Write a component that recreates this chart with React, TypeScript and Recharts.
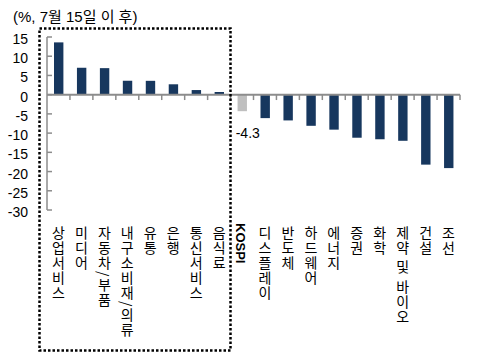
import React from 'react';
import { BarChart, Bar, XAxis, YAxis, ReferenceLine, Cell, LabelList } from 'recharts';

const categories = [
  '상업서비스', '미디어', '자동차/부품', '내구소비재/의류', '유통', '은행', '통신서비스', '음식료',
  'KOSPI',
  '디스플레이', '반도체', '하드웨어', '에너지', '증권', '화학', '제약 및 바이오', '건설', '조선',
];
const returns = [13.6, 7.0, 6.9, 3.6, 3.6, 2.7, 1.2, 0.7, -4.3, -6.1, -6.7, -8.1, -9.1, -11.2, -11.6, -12.0, -18.2, -19.1];
const yTicks = [15, 10, 5, 0, -5, -10, -15, -20, -25, -30];
const highlightCategory = 'KOSPI';
const highlightLabel = '-4.3';
const titleText = '(%, 7월 15일 이 후)';

const data = categories.map((name, i) => ({ name, value: returns[i], pos: i + 0.5 }));
const boundaries = categories.map((_, i) => i + 1);

const NAVY = '#17375E';
const GRAY_BAR = '#BFBFBF';
const AXIS = '#8C8C8C';
const KFONT = '"Noto Sans CJK KR", "Noto Sans", sans-serif';
const LFONT = '"Liberation Sans", Arial, sans-serif';

const YTick = (props: any) => {
  const { x, y, payload } = props;
  return (
    <g>
      <line x1={x} x2={x + 5} y1={y} y2={y} stroke={AXIS} strokeWidth={1.5} />
      <text x={x - 19} y={y + 7} textAnchor="end" fontFamily={LFONT} fontSize={14} fill="#000">
        {payload.value}
      </text>
    </g>
  );
};

const CatTick = (props: any) => {
  const { x, y, payload } = props;
  const label: string = payload.value;
  if (label === highlightCategory) {
    return (
      <text
        x={x - 1.5}
        y={y + 13}
        style={{ writingMode: 'vertical-rl' as any }}
        fontFamily={LFONT}
        fontWeight="bold"
        fontSize={13}
        fill="#000"
      >
        {label}
      </text>
    );
  }
  return (
    <text
      x={x}
      y={y + 16}
      style={{ writingMode: 'vertical-rl' as any, letterSpacing: '1px' }}
      fontFamily={KFONT}
      fontSize={14}
      fill="#000"
    >
      {label}
    </text>
  );
};

const KospiLabel = (props: any) => {
  const { x, y, width, height, index } = props;
  if (categories[index] !== highlightCategory) return null;
  const bottom = Math.max(y, y + height);
  return (
    <text x={x + width / 2 + 5.5} y={bottom + 26.5} textAnchor="middle" fontFamily={LFONT} fontSize={14} fill="#000">
      {highlightLabel}
    </text>
  );
};

export default function App() {
  return (
    <div style={{ position: 'absolute', left: 0, top: 0, width: 480, height: 359, background: '#fff' }}>
      <BarChart width={480} height={359} data={data} margin={{ top: 37, right: 20, bottom: 0, left: 0 }}>
        <XAxis
          dataKey="name"
          interval={0}
          height={149}
          axisLine={false}
          tickLine={false}
          tickSize={0}
          tickMargin={0}
          tick={<CatTick />}
        />
        <XAxis xAxisId="n" dataKey="pos" type="number" domain={[0, categories.length]} hide allowDataOverflow />
        <YAxis
          domain={[-30, 15]}
          ticks={yTicks}
          interval={0}
          width={47}
          tickSize={0}
          tickMargin={0}
          tickLine={false}
          axisLine={{ stroke: AXIS, strokeWidth: 1.5 }}
          tick={<YTick />}
          allowDataOverflow
        />
        <Bar dataKey="value" barSize={9.4} isAnimationActive={false}>
          {data.map((d, i) => (
            <Cell key={i} fill={d.name === highlightCategory ? GRAY_BAR : NAVY} />
          ))}
          <LabelList dataKey="value" content={<KospiLabel />} />
        </Bar>
        <ReferenceLine y={0} stroke={AXIS} strokeWidth={2} />
        {boundaries.map((b) => (
          <ReferenceLine
            key={b}
            xAxisId="n"
            segment={[{ x: b, y: 0 }, { x: b, y: -1.4 }]}
            stroke={AXIS}
            strokeWidth={1.5}
          />
        ))}
      </BarChart>
      <svg
        width={480}
        height={359}
        style={{ position: 'absolute', left: 0, top: 0, pointerEvents: 'none' }}
      >
        <text x={13} y={22} fontFamily={`${LFONT.split(',')[0]}, ${KFONT}`} fontSize={15} fill="#000">
          {titleText}
        </text>
        <rect
          x={39.5}
          y={28.5}
          width={191}
          height={322}
          fill="none"
          stroke="#000"
          strokeWidth={2.5}
          strokeDasharray="2.5 2"
        />
      </svg>
    </div>
  );
}
